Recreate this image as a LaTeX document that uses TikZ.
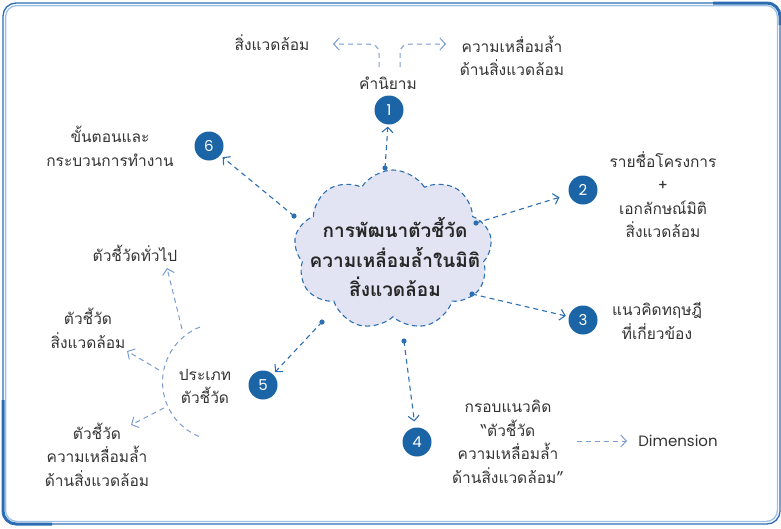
\documentclass[tikz,border=0pt]{standalone}
\usepackage{fontspec}
\newfontfamily\thai[Script=Thai]{Loma}
\newfontfamily\latin{Poppins}
\usetikzlibrary{arrows.meta,shapes.symbols}
\definecolor{framedark}{HTML}{2C6DB2}
\definecolor{framelight}{HTML}{9CC0E6}
\definecolor{nblue}{HTML}{1B64A6}
\definecolor{cblue}{HTML}{2D6FB3}
\definecolor{lblue}{HTML}{7A9BD0}
\definecolor{cloudfill}{HTML}{E3E4F3}
\definecolor{txt}{HTML}{333333}
\tikzset{
  lbl/.style={text=txt, font=\thai\fontsize{15.5}{23.5}\selectfont, align=center, inner sep=0pt},
  ttl/.style={text=black!85, font=\thai\bfseries\fontsize{19}{29.5}\selectfont, align=center, inner sep=0pt},
  num/.style={circle, fill=nblue, minimum size=29pt, inner sep=0pt, text=white, font=\latin\fontsize{15}{15}\selectfont},
  conn/.style={draw=cblue, line width=1.1pt, dash pattern=on 5pt off 4pt, -{Straight Barb[length=5pt,width=11pt,line width=1.1pt]}},
  lconn/.style={draw=lblue, line width=1pt, dash pattern=on 5pt off 4pt, -{Straight Barb[length=5.5pt,width=12pt,line width=1pt]}},
  ltrack/.style={draw=lblue, line width=1pt, dash pattern=on 5pt off 4pt},
  dot/.style={fill=cblue}
}
\begin{document}
\begin{tikzpicture}[x=1pt,y=-1pt]
\useasboundingbox (0,0) rectangle (781,528);
% frame
\draw[framedark, line width=1.3pt, rounded corners=13pt] (3,3) rectangle (780,524);
\draw[framelight, line width=1.3pt, rounded corners=11pt] (5.6,5.6) rectangle (777.4,521.4);
\draw[framedark, line width=3pt, rounded corners=13pt] (3,400) -- (3,524) -- (52,524);
\draw[framedark, line width=3pt, rounded corners=13pt] (713,3) -- (780,3) -- (780,25);
% cloud
\node[cloud, cloud puffs=9, cloud puff arc=115, aspect=1.25, draw=cblue, line width=1.1pt, dash pattern=on 5pt off 3.5pt, fill=cloudfill, minimum width=198pt, minimum height=160pt] (cloud) at (393,250) {};
\node[ttl] (title) at (395,257) {การพัฒนาตัวชี้วัด\\ความเหลื่อมล้ำในมิติ\\สิ่งแวดล้อม};
% numbered circles
\node[num] (n1) at (389,110) {1};
\node[num] (n2) at (583,190) {2};
\node[num] (n3) at (583,320) {3};
\node[num] (n4) at (417,442) {4};
\node[num] (n5) at (263,385) {5};
\node[num] (n6) at (209,146) {6};
% dots on cloud
\coordinate (d1) at (385,168);
\coordinate (d2) at (476,223);
\coordinate (d3) at (472,294);
\coordinate (d4) at (404,341);
\coordinate (d5) at (322,322);
\coordinate (d6) at (294,216);
\foreach \d in {d1,d2,d3,d4,d5,d6} \fill[dot] (\d) circle (2.6pt);
\draw[conn, shorten >=2pt] (d1) -- (n1);
\draw[conn, shorten >=10pt] (d2) -- (n2);
\draw[conn, shorten >=3pt] (d3) -- (n3);
\draw[conn, shorten >=6pt] (d4) -- (n4);
\draw[conn, shorten >=3pt] (d5) -- (n5);
\draw[conn, shorten >=3pt] (d6) -- (n6);
% labels
\node[lbl] (kam) at (388,83) {คำนิยาม};
\node[lbl] (env1) at (272,43) {สิ่งแวดล้อม};
\node[lbl] (ineq1) at (512,56) {ความเหลื่อมล้ำ\\ด้านสิ่งแวดล้อม};
\coordinate (kl) at (379,67);
\coordinate (kr) at (400,67);
\coordinate (tl) at (333,44);
\coordinate (tr) at (446,44);
\draw[lconn] (kl) -- (379,54) .. controls (379,46) and (375,44) .. (366,44) -- (tl);
\draw[lconn] (kr) -- (400,54) .. controls (400,46) and (404,44) .. (413,44) -- (tr);
\node[lbl] (t2) at (663,194.5) {รายชื่อโครงการ\\+\\เอกลักษณ์มิติ\\สิ่งแวดล้อม};
\node[lbl] (t3) at (657,321) {แนวคิดทฤษฎี\\ที่เกี่ยวข้อง};
\node[lbl] (t4) at (508,442) {กรอบแนวคิด\\“ตัวชี้วัด\\ความเหลื่อมล้ำ\\ด้านสิ่งแวดล้อม”};
\node[text=txt, font=\latin\fontsize{15}{15}\selectfont, inner sep=0pt] (dim) at (678,441) {Dimension};
\coordinate (da) at (577,441);
\coordinate (db) at (627,441);
\draw[lconn] (da) -- (db);
\node[lbl] (t6) at (110,146.5) {ขั้นตอนและ\\กระบวนการทำงาน};
\node[lbl] (t5) at (205,386.5) {ประเภท\\ตัวชี้วัด};
\draw[ltrack] (200,327) arc[start angle=248.6, end angle=111.8, radius=59];
\coordinate (a1) at (182,329);
\coordinate (a1t) at (167,268);
\coordinate (a2) at (159,370);
\coordinate (a2t) at (127,351);
\coordinate (a3) at (164,408);
\coordinate (a3t) at (131,425);
\draw[lconn] (a1) -- (a1t);
\draw[lconn] (a2) -- (a2t);
\draw[lconn] (a3) -- (a3t);
\node[lbl] (g1) at (135,253) {ตัวชี้วัดทั่วไป};
\node[lbl] (g2) at (88,328.5) {ตัวชี้วัด\\สิ่งแวดล้อม};
\node[lbl] (g3) at (97,454.5) {ตัวชี้วัด\\ความเหลื่อมล้ำ\\ด้านสิ่งแวดล้อม};
\end{tikzpicture}
\end{document}
